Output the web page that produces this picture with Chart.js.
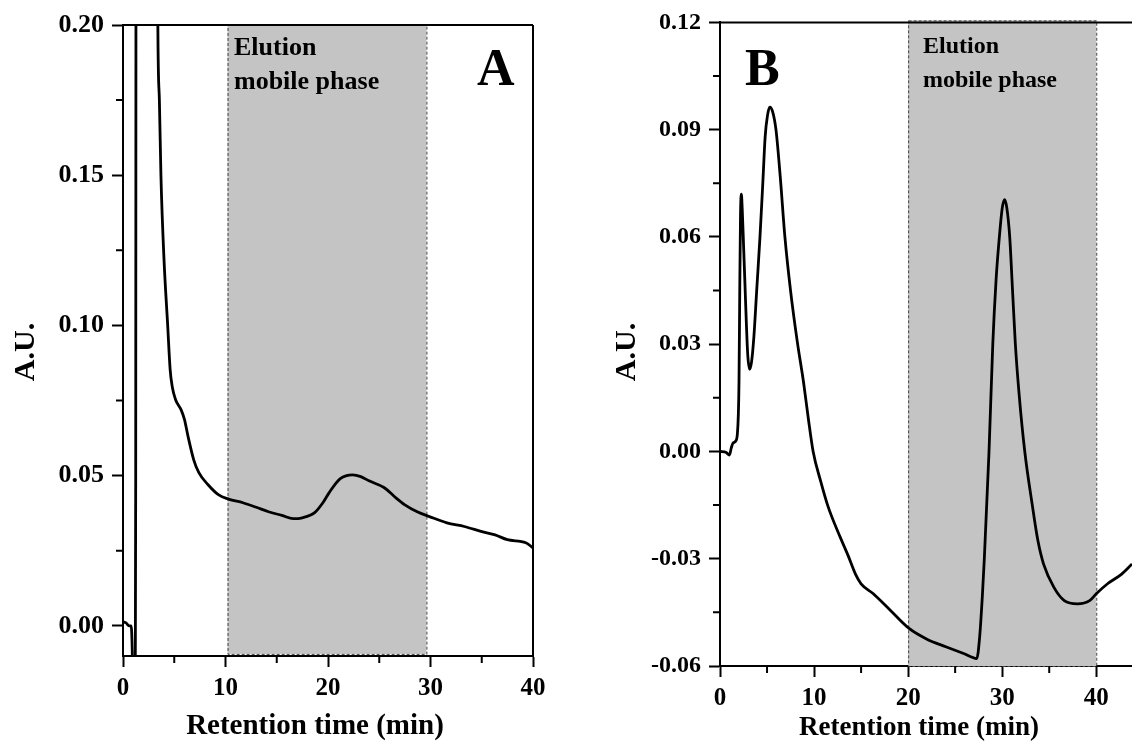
<!DOCTYPE html>
<html>
<head>
<meta charset="utf-8">
<script src="https://cdn.jsdelivr.net/npm/chart.js@4.4.1/dist/chart.umd.min.js"></script>
<style>
  html, body { margin: 0; padding: 0; background: #fff; }
  #wrap { position: relative; width: 1132px; height: 744px; overflow: hidden; }
  canvas { position: absolute; top: 0; }
  #chart-a { left: 0; }
  #chart-b { left: 566px; }
</style>
</head>
<body>
<div id="wrap">
  <canvas id="chart-a" width="566" height="744"></canvas>
  <canvas id="chart-b" width="566" height="744"></canvas>
</div>
<script>
// panel A chromatogram
const timeA = [0, 0.3, 0.6, 0.8, 0.9, 1.0, 1.1, 1.2, 1.24, 1.27, 1.35, 2.3, 3.3, 3.4, 3.55, 3.7, 4.0, 4.36,
  4.6, 4.8, 5.13, 5.66, 6.0, 6.35, 6.9, 7.4, 8.3, 9.3, 10.3, 11.7, 13.0, 14.2, 15.5, 16.6, 17.5, 18.7,
  19.5, 20.1, 21.2, 22.4, 23.2, 24.0, 25.5, 26.5, 27.5, 28.7, 29.9, 31.6, 33.3, 35.1, 36.3, 37.5, 39.3, 40];
const absA = [0.0014, 0.001, 0.0, 0.0, -0.008, -0.03, -0.04, -0.01, 0.05, 0.25, 0.5, 1.0, 0.3, 0.2, 0.175, 0.15, 0.122, 0.1,
  0.0853, 0.0797, 0.0753, 0.072, 0.0687, 0.063, 0.0553, 0.051, 0.047, 0.0437, 0.0422, 0.041, 0.0395, 0.038, 0.0368, 0.0357, 0.036, 0.0377,
  0.041, 0.0443, 0.049, 0.0503, 0.0497, 0.0483, 0.046, 0.043, 0.0403, 0.038, 0.0364, 0.0343, 0.0331, 0.0313, 0.0303, 0.0287, 0.0277, 0.026];

// panel B chromatogram
const timeB = [0, 0.66, 1.0, 1.2, 1.37, 1.7, 1.85, 1.95, 2.02, 2.1, 2.18, 2.27, 2.36, 2.5, 2.65, 2.8, 2.95, 3.15, 3.35,
  3.6, 3.9, 4.25, 4.55, 4.8, 5.05, 5.3, 5.6, 5.95, 6.4, 6.9, 7.5, 8.2, 8.9, 9.4, 9.9, 10.7, 11.5, 12.8, 13.6,
  14.4, 15.0, 16.3, 18.1, 20.1, 22.0, 24.0, 25.9, 27.3, 27.6, 27.9, 28.1, 28.6, 29.0, 29.35, 29.7, 30.0, 30.26,
  30.5, 30.8, 31.1, 31.4, 31.8, 32.4, 33.2, 33.8, 34.4, 35.5, 36.6, 38.0, 39.3, 40.0, 41.2, 42.7, 43.8];
const absB = [0, -0.0003, -0.001, 0.001, 0.0023, 0.003, 0.005, 0.0103, 0.0194, 0.045, 0.066, 0.072, 0.068, 0.058, 0.047, 0.036, 0.027, 0.023, 0.025,
  0.032, 0.045, 0.06, 0.075, 0.088, 0.094, 0.0963, 0.095, 0.09, 0.077, 0.06, 0.045, 0.031, 0.019, 0.009, 0.0, -0.0083, -0.0155, -0.0241, -0.029,
  -0.0343, -0.037, -0.0398, -0.0444, -0.0495, -0.0525, -0.0546, -0.0565, -0.0579, -0.052, -0.04, -0.03, 0.0, 0.03, 0.048, 0.06, 0.068, 0.0704,
  0.068, 0.06, 0.045, 0.03, 0.016, 0.0, -0.015, -0.025, -0.0315, -0.038, -0.0417, -0.0426, -0.0417, -0.0398, -0.037, -0.0343, -0.0315];

// ticks
const xTicks = [0, 10, 20, 30, 40];
const xMinor = [5, 15, 25, 35];
const yTicksA = [0, 0.05, 0.10, 0.15, 0.20];
const yMinorA = [0.025, 0.075, 0.125, 0.175];
const yTicksB = [-0.06, -0.03, 0, 0.03, 0.06, 0.09, 0.12];
const yMinorB = [-0.045, -0.015, 0.015, 0.045, 0.075, 0.105];

// elution window (min)
const elutionA = [10.2, 29.6];
const elutionB = [20, 40];

Chart.defaults.font.family = "'Liberation Serif', 'Times New Roman', serif";
Chart.defaults.font.weight = 'bold';
Chart.defaults.color = '#000';

const SERIF = "'Liberation Serif', 'Times New Roman', serif";

// grey band for the elution phase, under the curve
const bandPlugin = {
  id: 'band',
  beforeDatasetsDraw(chart, args, opts) {
    const {ctx, chartArea, scales} = chart;
    const x0 = scales.x.getPixelForValue(opts.from);
    const x1 = scales.x.getPixelForValue(opts.to);
    const y0 = chartArea.top + opts.topShift;
    const y1 = scales.y.getPixelForValue(opts.bottom);
    ctx.save();
    ctx.fillStyle = '#c4c4c4';
    ctx.fillRect(x0, y0, x1 - x0, y1 - y0);
    ctx.strokeStyle = '#444';
    ctx.lineWidth = 1;
    ctx.setLineDash([3, 2]);
    ctx.strokeRect(x0 + 0.5, y0 + 0.5, x1 - x0, y1 - y0);
    ctx.restore();
  }
};

// minor ticks, frame lines and free text
const decoPlugin = {
  id: 'deco',
  afterDraw(chart, args, opts) {
    const {ctx, chartArea, scales} = chart;
    ctx.save();
    ctx.strokeStyle = '#000';
    ctx.lineWidth = 2;
    ctx.beginPath();
    opts.xMinor.forEach(v => {
      const px = scales.x.getPixelForValue(v);
      ctx.moveTo(px, chartArea.bottom);
      ctx.lineTo(px, chartArea.bottom + 7);
    });
    opts.yMinor.forEach(v => {
      const py = scales.y.getPixelForValue(v);
      ctx.moveTo(chartArea.left, py);
      ctx.lineTo(chartArea.left - 7, py);
    });
    // top line
    ctx.moveTo(chartArea.left, chartArea.top);
    ctx.lineTo(chartArea.right, chartArea.top);
    if (opts.rightLine) {
      ctx.moveTo(chartArea.right, chartArea.top);
      ctx.lineTo(chartArea.right, chartArea.bottom);
    }
    ctx.stroke();

    ctx.fillStyle = '#000';
    // panel letter
    ctx.font = 'bold 52px ' + SERIF;
    ctx.textBaseline = 'alphabetic';
    ctx.textAlign = 'left';
    ctx.fillText(opts.letter, opts.letterX, opts.letterY);
    // band caption
    ctx.font = 'bold ' + opts.capSize + 'px ' + SERIF;
    ctx.fillText('Elution', opts.capX, opts.capY);
    ctx.fillText('mobile phase', opts.capX, opts.capY + 34);
    // x axis title
    ctx.font = 'bold ' + opts.xTitleSize + 'px ' + SERIF;
    ctx.textAlign = 'center';
    ctx.textBaseline = 'middle';
    ctx.fillText('Retention time (min)', opts.xTitleX, opts.xTitleY);
    // y axis title
    ctx.translate(opts.yTitleX, opts.yTitleY);
    ctx.rotate(-Math.PI / 2);
    ctx.font = 'bold 30px ' + SERIF;
    ctx.fillText('A.U.', 0, 0);
    ctx.restore();
  }
};

function makeChart(id, cfg) {
  const points = cfg.time.map((t, i) => ({x: t, y: cfg.abs[i]}));
  return new Chart(document.getElementById(id), {
    type: 'line',
    data: {
      datasets: [{
        data: points,
        borderColor: '#000',
        borderWidth: 2.8,
        pointRadius: 0,
        cubicInterpolationMode: 'monotone',
        fill: false
      }]
    },
    options: {
      responsive: false,
      animation: false,
      layout: { padding: { top: cfg.top, right: cfg.right, left: 0, bottom: 0 } },
      plugins: {
        legend: { display: false },
        tooltip: { enabled: false },
        band: cfg.band,
        deco: cfg.deco
      },
      scales: {
        x: {
          type: 'linear',
          min: 0,
          max: cfg.xMax,
          afterBuildTicks: s => { s.ticks = xTicks.map(v => ({value: v})); },
          afterFit: s => { s.height = cfg.xHeight; },
          grid: { drawOnChartArea: false, drawTicks: true, tickLength: 11, tickWidth: 2, tickColor: '#000' },
          border: { display: true, color: '#000', width: 2 },
          ticks: { color: '#000', padding: 7, font: { size: 25, weight: 'bold' }, callback: v => String(v) }
        },
        y: {
          type: 'linear',
          min: cfg.yMin,
          max: cfg.yMax,
          afterBuildTicks: s => { s.ticks = cfg.yTicks.map(v => ({value: v})); },
          afterFit: s => { s.width = cfg.yWidth; },
          grid: { drawOnChartArea: false, drawTicks: true, tickLength: 11, tickWidth: 2, tickColor: '#000' },
          border: { display: true, color: '#000', width: 2 },
          ticks: { color: '#000', padding: 8, font: { size: cfg.yTickSize, weight: 'bold' }, callback: v => v.toFixed(2) }
        }
      }
    },
    plugins: [bandPlugin, decoPlugin]
  });
}

makeChart('chart-a', {
  time: timeA, abs: absA,
  top: 25, right: 33, xHeight: 88, yWidth: 123,
  xMax: 40, yMin: -0.01, yMax: 0.20, yTicks: yTicksA, yTickSize: 26,
  band: { from: elutionA[0], to: elutionA[1], bottom: -0.0093, topShift: 0 },
  deco: { xMinor: xMinor, yMinor: yMinorA, rightLine: true,
          letter: 'A', letterX: 477, letterY: 85,
          capSize: 26, capX: 234, capY: 55,
          xTitleSize: 29, xTitleX: 315, xTitleY: 727,
          yTitleX: 26, yTitleY: 352 }
});

makeChart('chart-b', {
  time: timeB, abs: absB,
  top: 19, right: 0, xHeight: 78, yWidth: 154,
  xMax: 43.8, yMin: -0.06, yMax: 0.12, yTicks: yTicksB, yTickSize: 24,
  band: { from: elutionB[0], to: elutionB[1], bottom: -0.06, topShift: -2 },
  deco: { xMinor: xMinor, yMinor: yMinorB, rightLine: false,
          letter: 'B', letterX: 179, letterY: 85,
          capSize: 24, capX: 357, capY: 53,
          xTitleSize: 27, xTitleX: 353, xTitleY: 728,
          yTitleX: 61, yTitleY: 352 }
});
</script>
</body>
</html>
